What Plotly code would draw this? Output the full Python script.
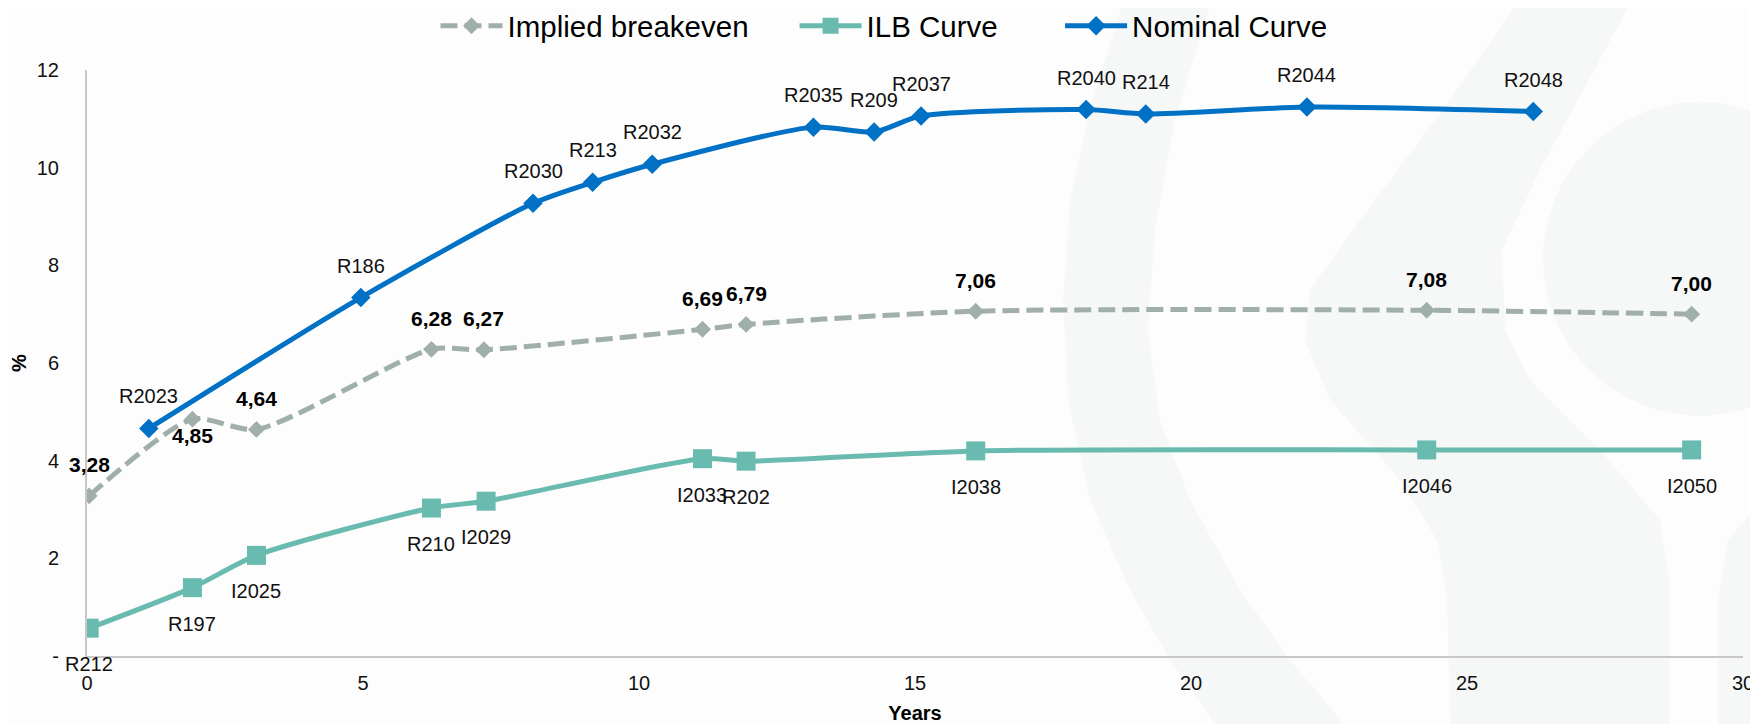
import plotly.graph_objects as go

# ---------------- data ----------------
nominal_years = [1.12, 4.96, 8.08, 9.16, 10.24, 13.16, 14.26, 15.11, 18.10, 19.18, 22.10, 26.20]
nominal_yield = [4.66, 7.34, 9.27, 9.70, 10.07, 10.83, 10.73, 11.06, 11.19, 11.10, 11.24, 11.15]
nominal_bonds = ["R2023", "R186", "R2030", "R213", "R2032", "R2035", "R209", "R2037",
                 "R2040", "R214", "R2044", "R2048"]

ilb_years = [0.04, 1.91, 3.07, 6.24, 7.23, 11.15, 11.94, 16.10, 24.27, 29.07]
ilb_yield = [0.57, 1.40, 2.06, 3.03, 3.17, 4.04, 3.99, 4.20, 4.22, 4.22]
ilb_bonds = ["R212", "R197", "I2025", "R210", "I2029", "I2033", "R202", "I2038", "I2046", "I2050"]

be_years = [0.04, 1.91, 3.07, 6.24, 7.19, 11.15, 11.94, 16.10, 24.27, 29.07]
be_values = [3.28, 4.85, 4.64, 6.28, 6.27, 6.69, 6.79, 7.06, 7.08, 7.00]
be_label_below = [False, True, False, False, False, False, False, False, False, False]

y_ticks = [0, 2, 4, 6, 8, 10, 12]
y_tick_text = ["-", "2", "4", "6", "8", "10", "12"]
x_ticks = [0, 5, 10, 15, 20, 25, 30]

# ---------------- styles ----------------
FONT = "Liberation Sans, Arial, sans-serif"
C_NOM = "#0071C5"
C_ILB = "#69BBB0"
C_BE = "#A0AFAA"
OFF = 8                      # page body margin of the html page
FIG_W, FIG_H = 1758 - OFF, 724 - OFF
PLOT_L, PLOT_R, PLOT_T, PLOT_B = 87, 1743, 70, 656  # page pixels of plot area
NB = "\u00a0"

fig = go.Figure()

fig.add_trace(go.Scatter(
    x=be_years, y=be_values, name="Implied breakeven" + NB * 5, mode="lines+markers",
    line=dict(color=C_BE, width=5, dash="17px,7px", shape="spline", smoothing=0.7),
    marker=dict(symbol="diamond", size=13, color=C_BE),
))
fig.add_trace(go.Scatter(
    x=ilb_years, y=ilb_yield, name="ILB Curve" + NB * 7, mode="lines+markers",
    line=dict(color=C_ILB, width=5, shape="spline", smoothing=0.7),
    marker=dict(symbol="square", size=19, color=C_ILB),
))
fig.add_trace(go.Scatter(
    x=nominal_years, y=nominal_yield, name="Nominal Curve", mode="lines+markers",
    line=dict(color=C_NOM, width=5, shape="spline", smoothing=0.7),
    marker=dict(symbol="diamond", size=15, color=C_NOM),
))

annotations = []
for xv, yv, t in zip(nominal_years, nominal_yield, nominal_bonds):
    annotations.append(dict(x=xv, y=yv, text=t, showarrow=False, yshift=32,
                            font=dict(family=FONT, size=20, color="#111")))
for xv, yv, t in zip(ilb_years, ilb_yield, ilb_bonds):
    annotations.append(dict(x=xv, y=yv, text=t, showarrow=False, yshift=-36,
                            font=dict(family=FONT, size=20, color="#111")))
for xv, yv, below in zip(be_years, be_values, be_label_below):
    annotations.append(dict(x=xv, y=yv, text=f"<b>{yv:.2f}</b>".replace(".", ","),
                            showarrow=False, yshift=-16 if below else 31,
                            font=dict(family=FONT, size=21, color="#000")))

# faint background watermark (decoration), page pixel outlines
def to_paper(pts):
    w = PLOT_R - PLOT_L
    h = PLOT_B - PLOT_T
    return [((px - PLOT_L) / w, (PLOT_B - py) / h) for px, py in pts]

def path_from(pts):
    p = to_paper(pts)
    s = "M %.4f,%.4f " % p[0]
    for a, b in p[1:]:
        s += "L %.4f,%.4f " % (a, b)
    return s + "Z"

band1 = [(1124, 0), (1092, 100), (1070, 200), (1063, 300), (1068, 400), (1090, 500),
         (1130, 590), (1170, 660), (1215, 724), (1344, 724), (1290, 660), (1240, 590),
         (1190, 500), (1160, 420), (1148, 330), (1155, 230), (1175, 120), (1212, 0)]
band2 = [(1519, 0), (1450, 100), (1360, 220), (1310, 290), (1305, 340), (1330, 400),
         (1400, 480), (1437, 540), (1447, 600), (1450, 724), (1670, 724), (1669, 580),
         (1660, 520), (1600, 450), (1530, 380), (1505, 330), (1502, 250), (1540, 170),
         (1632, 0)]
corner = [(1718, 724), (1718, 600), (1728, 540), (1758, 505), (1758, 724)]

WM = "#F6F8F7"
shapes = []
for poly in (band1, band2, corner):
    shapes.append(dict(type="path", xref="paper", yref="paper", path=path_from(poly),
                       fillcolor=WM, line=dict(width=0), layer="below"))
cx, cy, r = 1700, 259, 157
(x0p, y0p), (x1p, y1p) = to_paper([(cx - r, cy + r), (cx + r, cy - r)])
shapes.append(dict(type="circle", xref="paper", yref="paper", x0=x0p, y0=y0p, x1=x1p, y1=y1p,
                   fillcolor=WM, line=dict(width=0), layer="below"))

legend_top_page = 0
legend_y = 1 + (PLOT_T - legend_top_page) / (PLOT_B - PLOT_T)

fig.update_layout(
    width=FIG_W, height=FIG_H,
    margin=dict(l=PLOT_L - OFF, r=1758 - PLOT_R, t=PLOT_T - OFF, b=724 - PLOT_B,
                autoexpand=False),
    paper_bgcolor="#FDFDFD", plot_bgcolor="rgba(0,0,0,0)",
    font=dict(family=FONT, size=20, color="#111"),
    showlegend=True,
    legend=dict(orientation="h", xref="paper", yref="paper",
                x=(884 - PLOT_L) / (PLOT_R - PLOT_L), xanchor="center",
                y=legend_y, yanchor="top", font=dict(family=FONT, size=29.5, color="#000"),
                itemwidth=62, bgcolor="rgba(0,0,0,0)", tracegroupgap=0),
    annotations=annotations,
    shapes=shapes,
    xaxis=dict(range=[0, 30], tickvals=x_ticks, showgrid=False, zeroline=False,
               showline=True, linecolor="#C8C8C8", linewidth=2, ticks="", automargin=False,
               ticklabelstandoff=8, tickfont=dict(size=20, color="#111"),
               title=dict(text="<b>Years</b>", standoff=13, font=dict(size=20, color="#000"))),
    yaxis=dict(range=[0, 12], tickvals=y_ticks, ticktext=y_tick_text, showgrid=False,
               zeroline=False, showline=True, linecolor="#C8C8C8", linewidth=2,
               ticks="outside", ticklen=22, tickcolor="rgba(0,0,0,0)",
               automargin=False, tickfont=dict(size=20, color="#111"),
               title=dict(text="<b>%</b>", standoff=12, font=dict(size=20, color="#000"))),
)

fig.write_html("out.html")
